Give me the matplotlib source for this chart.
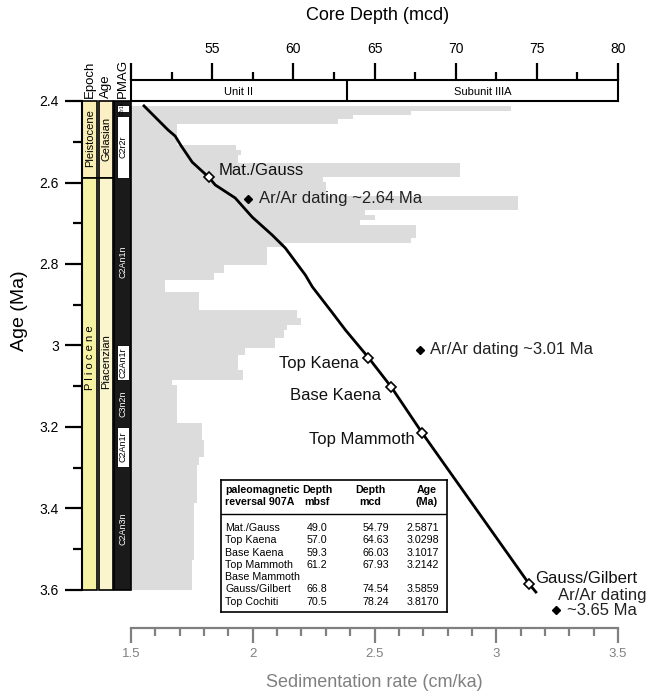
import matplotlib
matplotlib.use('Agg')
import matplotlib.pyplot as plt
from matplotlib.patches import Rectangle
from matplotlib.ticker import MultipleLocator, FuncFormatter
import numpy as np

plt.rcParams['font.family'] = ['Liberation Sans', 'DejaVu Sans']

# sedimentation rate steps (age edges in Ma, rate in cm/ka)
bar_edges = [2.412, 2.424, 2.434, 2.445, 2.456, 2.508, 2.520, 2.533, 2.552, 2.587,
             2.599, 2.633, 2.667, 2.680, 2.692, 2.704, 2.736, 2.748, 2.758, 2.802,
             2.822, 2.839, 2.869, 2.913, 2.933, 2.950, 2.962, 2.982, 3.006, 3.023,
             3.060, 3.085, 3.097, 3.190, 3.232, 3.274, 3.293, 3.313, 3.387, 3.526,
             3.600]
sed_rate = [3.06, 2.65, 2.41, 2.35, 1.69, 1.93, 1.95, 1.94, 2.85, 2.29,
            2.30, 3.09, 2.46, 2.50, 2.44, 2.67, 2.65, 2.13, 2.06, 1.88,
            1.84, 1.64, 1.78, 2.18, 2.20, 2.14, 2.13, 2.09, 1.97, 1.94,
            1.96, 1.67, 1.69, 1.79, 1.80, 1.78, 1.77, 1.77, 1.76, 1.75]

# age model: depth (mcd) vs age (Ma)
model_depth = [50.80, 52.28, 52.72, 53.09, 53.77, 54.79, 55.19, 56.42, 57.47, 58.70,
               59.51, 60.74, 61.17, 62.41, 63.21, 64.63, 66.03, 67.93, 74.54, 74.94]
model_age = [2.412, 2.471, 2.486, 2.510, 2.550, 2.5871, 2.606, 2.638, 2.685, 2.729,
             2.761, 2.827, 2.856, 2.920, 2.962, 3.0298, 3.1017, 3.2142, 3.5859, 3.605]

# reversals (907A)
rev_names = ['Mat./Gauss', 'Top Kaena', 'Base Kaena', 'Top Mammoth', 'Base Mammoth',
             'Gauss/Gilbert', 'Top Cochiti']
rev_mbsf = ['49.0', '57.0', '59.3', '61.2', '', '66.8', '70.5']
rev_mcd = ['54.79', '64.63', '66.03', '67.93', '', '74.54', '78.24']
rev_age_txt = ['2.5871', '3.0298', '3.1017', '3.2142', '', '3.5859', '3.8170']
plot_names = ['Mat./Gauss', 'Top Kaena', 'Base Kaena', 'Top Mammoth', 'Gauss/Gilbert']
plot_depth = [54.79, 64.63, 66.03, 67.93, 74.54]
plot_age = [2.5871, 3.0298, 3.1017, 3.2142, 3.5859]
label_offsets = [(7, 5), (-7, -4), (-7, -6), (-5, -5), (4, 4)]
label_ha = ['left', 'right', 'right', 'right', 'left']

# Ar/Ar ages
arar_depth = [57.2, 67.8, 76.2]
arar_age = [2.64, 3.01, 3.65]
arar_text = ['Ar/Ar dating ~2.64 Ma', 'Ar/Ar dating ~3.01 Ma', 'Ar/Ar dating\n~3.65 Ma']

# stratigraphic columns
epochs = [('Pleistocene', 2.40, 2.588, '#f9efb4', 2.490), ('P l i o c e n e', 2.588, 3.60, '#f6f2a3', 3.03)]
stages = [('Gelasian', 2.40, 2.588, '#fbf0c3', 2.492), ('Piacenzian', 2.588, 3.60, '#faf5cc', 3.04)]
chrons = [('', 2.400, 2.410, 'k'), ('C2r1n', 2.410, 2.428, 'w'), ('', 2.428, 2.438, 'k'),
          ('C2r2r', 2.438, 2.588, 'w'), ('C2An1n', 2.588, 3.000, 'k'), ('C2An1r', 3.000, 3.085, 'w'),
          ('C3n2n', 3.085, 3.200, 'k'), ('C2An1r', 3.200, 3.298, 'w'), ('C2An3n', 3.298, 3.600, 'k')]

units = [('Unit II', 50, 63.3), ('Subunit IIIA', 63.3, 80)]

W, H = 652, 698


def box(x0, y0, x1, y1):
    return [x0 / W, 1 - y1 / H, (x1 - x0) / W, (y1 - y0) / H]


fig = plt.figure(figsize=(W / 100, H / 100), dpi=100)

# main panel: sedimentation rate bars + age model
ax = fig.add_axes(box(131, 101, 618, 590))
edges = np.array(bar_edges)
ax.barh(edges[:-1], np.array(sed_rate) - 1.5, height=np.diff(edges), left=1.5,
        align='edge', color='#dcdcdc', linewidth=0)
ax.set_xlim(1.5, 3.5)
ax.set_ylim(3.6, 2.4)
for s in ['top', 'right', 'left']:
    ax.spines[s].set_visible(False)
gray = '#808080'
ax.spines['bottom'].set_position(('outward', 27))
ax.spines['bottom'].set_color(gray)
ax.spines['bottom'].set_linewidth(1.6)
ax.xaxis.set_major_locator(MultipleLocator(0.5))
ax.xaxis.set_minor_locator(MultipleLocator(0.1))
ax.xaxis.set_major_formatter(FuncFormatter(lambda v, p: '%g' % v))
ax.tick_params(axis='x', which='major', length=11, width=1.6, color=gray,
               labelcolor=gray, labelsize=9.5, pad=4)
ax.tick_params(axis='x', which='minor', length=6, width=1.6, color=gray)
ax.set_yticks([])
ax.set_xlabel('Sedimentation rate (cm/ka)', fontsize=13, color=gray, labelpad=10)

ax_top = ax.twiny()
ax_top.set_xlim(50, 80)
ax_top.set_ylim(3.6, 2.4)
ax_top.axis('off')
ax_top.plot(model_depth, model_age, color='black', lw=2, clip_on=False, zorder=3)
ax_top.plot(plot_depth, plot_age, 'D', mfc='white', mec='black', ms=5, mew=1.2, zorder=4)
for name, d, a, off, ha in zip(plot_names, plot_depth, plot_age, label_offsets, label_ha):
    ax_top.annotate(name, (d, a), xytext=off, textcoords='offset points',
                    ha=ha, va='center', fontsize=12, color='#111111')
ax_top.plot(arar_depth, arar_age, 'D', color='black', ms=4.5, clip_on=False, zorder=4)
ax_top.annotate(arar_text[0], (arar_depth[0], arar_age[0]), xytext=(8, 0),
                textcoords='offset points', ha='left', va='center', fontsize=12, color='#222222')
ax_top.annotate(arar_text[1], (arar_depth[1], arar_age[1]), xytext=(7, 0),
                textcoords='offset points', ha='left', va='center', fontsize=12, color='#222222')
ax_top.annotate(arar_text[2], (arar_depth[2], arar_age[2]), xytext=(33, 5),
                textcoords='offset points', ha='center', va='center', fontsize=12,
                color='#222222', multialignment='center', linespacing=1.0,
                annotation_clip=False)

# lithologic units and depth scale
ax_u = fig.add_axes(box(131, 80, 618, 101))
ax_u.set_xlim(50, 80)
ax_u.set_ylim(0, 1)
for s in ax_u.spines.values():
    s.set_linewidth(1.5)
for name, d0, d1 in units:
    ax_u.text((d0 + d1) / 2, 0.45, name, ha='center', va='center', fontsize=8)
ax_u.axvline(units[0][2], color='black', lw=1.5)
ax_u.set_yticks([])
ax_u.xaxis.tick_top()
ax_u.set_xticks(np.arange(50, 81, 5))
ax_u.set_xticklabels([''] + ['%d' % v for v in np.arange(55, 81, 5)])
ax_u.xaxis.set_minor_locator(MultipleLocator(2.5))
ax_u.tick_params(axis='x', which='major', length=12, width=1.6, labelsize=10, pad=5)
ax_u.tick_params(axis='x', which='minor', length=6, width=1.6)
fig.text(378 / W, 1 - 15 / H, 'Core Depth (mcd)', ha='center', va='center', fontsize=13)

# epoch / age / polarity columns
ax_s = fig.add_axes(box(82, 101, 131, 590))
ax_s.set_xlim(0, 1)
ax_s.set_ylim(3.6, 2.4)
for s in ['top', 'right', 'bottom']:
    ax_s.spines[s].set_visible(False)
ax_s.spines['left'].set_linewidth(1.5)
ax_s.set_xticks([])
ax_s.set_yticks([2.4, 2.6, 2.8, 3.0, 3.2, 3.4, 3.6])
ax_s.yaxis.set_major_formatter(FuncFormatter(lambda v, p: '%g' % v))
ax_s.yaxis.set_minor_locator(MultipleLocator(0.1))
ax_s.tick_params(axis='y', which='major', length=12.5, width=1.6, labelsize=10, pad=4)
ax_s.tick_params(axis='y', which='minor', length=6.5, width=1.6)

col_x = [(0.0, 0.312), (0.353, 0.639), (0.659, 1.0)]
for (name, a0, a1, fc, ly) in epochs:
    x0, x1 = col_x[0]
    ax_s.add_patch(Rectangle((x0, a0), x1 - x0, a1 - a0, fc=fc, ec='black', lw=1.2, clip_on=False))
    ax_s.text((x0 + x1) / 2, ly, name, rotation=90, ha='center', va='center', fontsize=8)
for (name, a0, a1, fc, ly) in stages:
    x0, x1 = col_x[1]
    ax_s.add_patch(Rectangle((x0, a0), x1 - x0, a1 - a0, fc=fc, ec='black', lw=1.2, clip_on=False))
    ax_s.text((x0 + x1) / 2, ly, name, rotation=90, ha='center', va='center', fontsize=8)
x0, x1 = col_x[2]
ax_s.add_patch(Rectangle((x0, 2.4), x1 - x0, 1.2, fc='#1a1a1a', ec='black', lw=1.2, clip_on=False))
for (name, a0, a1, c) in chrons:
    if c == 'w':
        ax_s.add_patch(Rectangle((x0 + 0.05, a0), x1 - x0 - 0.1, a1 - a0, fc='white',
                                 ec='black', lw=0.6, clip_on=False))
    if name:
        fs = 3.5 if a1 - a0 < 0.03 else 6.5
        ax_s.text((x0 + x1) / 2, (a0 + a1) / 2, name, rotation=90, ha='center', va='center',
                  fontsize=fs, color='white' if c == 'k' else 'black')
for label, (c0, c1) in zip(['Epoch', 'Age', 'PMAG'], col_x):
    ax_s.text((c0 + c1) / 2, 1.006, label, rotation=90, ha='center', va='bottom',
              fontsize=9.5, transform=ax_s.transAxes)
fig.text(19 / W, 1 - 311 / H, 'Age (Ma)', rotation=90, ha='center', va='center', fontsize=14)

# table of reversal depths
ax_t = fig.add_axes(box(221, 480, 447, 612))
ax_t.set_xlim(221, 447)
ax_t.set_ylim(612, 480)
ax_t.set_xticks([])
ax_t.set_yticks([])
for s in ax_t.spines.values():
    s.set_linewidth(1.2)
ax_t.axhline(514, color='black', lw=1.0)
hdr = dict(fontsize=7.7, fontweight='bold', va='center', linespacing=1.2)
ax_t.text(225, 496, 'paleomagnetic\nreversal 907A', ha='left', **hdr)
ax_t.text(317, 496, 'Depth\nmbsf', ha='center', **hdr)
ax_t.text(370, 496, 'Depth\nmcd', ha='center', **hdr)
ax_t.text(427, 496, 'Age\n(Ma)', ha='center', **hdr)
for i, name in enumerate(rev_names):
    y = 528 + i * 12.3
    ax_t.text(225, y, name, ha='left', va='center', fontsize=7.7)
    ax_t.text(317, y, rev_mbsf[i], ha='center', va='center', fontsize=7.7)
    ax_t.text(376, y, rev_mcd[i], ha='center', va='center', fontsize=7.7)
    ax_t.text(423, y, rev_age_txt[i], ha='center', va='center', fontsize=7.7)

fig.savefig('out.png', dpi=100)
